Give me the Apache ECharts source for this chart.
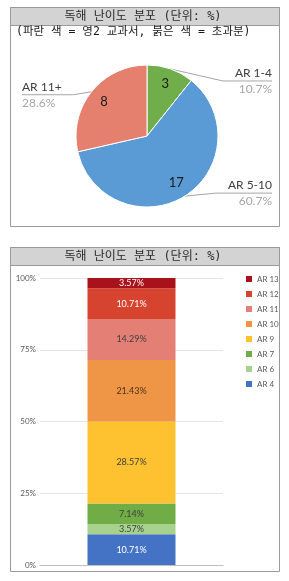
<!DOCTYPE html>
<html><head><meta charset="utf-8">
<script src="https://cdn.jsdelivr.net/npm/echarts@6/dist/echarts.min.js"></script>
<style>html,body{margin:0;padding:0;background:#fff}#c{width:289px;height:581px}</style>
</head><body><div id="c"></div>
<script>
const titleText = '독해 난이도 분포 (단위: %)';
const subtitleText = '(파란 색 = 영2 교과서, 붉은 색 = 초과분)';
const pieNames = ['AR 1-4', 'AR 5-10', 'AR 11+'];
const pieValues = [3, 17, 8];
const pieColors = ['#6FAE4B', '#5B9BD5', '#E5806F'];
const barCategories = ['AR'];
const barSeriesNames = ['AR 4', 'AR 6', 'AR 7', 'AR 9', 'AR 10', 'AR 11', 'AR 12', 'AR 13'];
const barValues = [10.71, 3.57, 7.14, 28.57, 21.43, 14.29, 10.71, 3.57];
const barColors = ['#4472C4', '#A6D28E', '#70AD47', '#FEC231', '#EE9646', '#E47F75', '#D6432F', '#A8131B'];
const barLabelColors = ['#FFFFFF', '#404040', '#404040', '#404040', '#4A3320', '#404040', '#FFFFFF', '#FFFFFF'];
const yTicks = [0, 25, 50, 75, 100];

const hangulFont = "'DejaVu Sans Mono','Noto Sans CJK KR',sans-serif";
const latinFont = "Lato,'Noto Sans',sans-serif";

const chart = echarts.init(document.getElementById('c'), null, {renderer: 'canvas'});

const pieBox = {left: 22, right: 17, top: 0, bottom: 0};
const pieCenter = [125, 136];
// vertical nudges of the outside pie labels (Excel-like placement)
const pieLabelShift = [12, -3, 3];

const option = {
  animation: false,
  backgroundColor: '#fff',
  graphic: [
    {type: 'rect', z: -10, shape: {x: 10.5, y: 7.5, width: 269, height: 219}, style: {fill: '#fff', stroke: '#9A9A9A', lineWidth: 1}},
    {type: 'rect', z: -9, shape: {x: 10.5, y: 7.5, width: 269, height: 18}, style: {fill: '#D3D3D3', stroke: '#9A9A9A', lineWidth: 1}},
    {type: 'text', z: -8, x: 143, y: 16.5, style: {text: titleText, align: 'center', verticalAlign: 'middle', fontSize: 12, fontFamily: hangulFont, fill: '#2B2B2B'}},
    {type: 'text', z: -8, x: 16, y: 32.5, style: {text: subtitleText, align: 'left', verticalAlign: 'middle', fontSize: 11.5, fontFamily: hangulFont, fill: '#1A1A1A'}},
    {type: 'rect', z: -10, shape: {x: 10.5, y: 247.5, width: 269, height: 324}, style: {fill: '#fff', stroke: '#9A9A9A', lineWidth: 1}},
    {type: 'rect', z: -9, shape: {x: 10.5, y: 247.5, width: 269, height: 18}, style: {fill: '#D3D3D3', stroke: '#9A9A9A', lineWidth: 1}},
    {type: 'text', z: -8, x: 143, y: 256.5, style: {text: titleText, align: 'center', verticalAlign: 'middle', fontSize: 12, fontFamily: hangulFont, fill: '#2B2B2B'}}
  ],
  legend: {
    orient: 'vertical', left: 241, top: 270,
    itemWidth: 6, itemHeight: 6, itemGap: 7,
    icon: 'rect',
    data: barSeriesNames.slice().reverse(),
    textStyle: {fontSize: 8, color: '#595959', fontFamily: latinFont},
    selectedMode: false
  },
  grid: {left: 40, right: 66, top: 278, bottom: 16},
  xAxis: {
    type: 'category', data: barCategories,
    axisLine: {lineStyle: {color: '#BFBFBF'}}, axisTick: {show: false}, axisLabel: {show: false}
  },
  yAxis: {
    type: 'value', min: yTicks[0], max: yTicks[yTicks.length - 1], interval: yTicks[1] - yTicks[0],
    axisLabel: {formatter: '{value}%', fontSize: 8, color: '#595959', margin: 4, fontFamily: latinFont},
    splitLine: {lineStyle: {color: '#E6E6E6'}},
    axisLine: {show: false}, axisTick: {show: false}
  },
  series: [
    {
      type: 'pie', ...pieBox, center: pieCenter, radius: 71, startAngle: 90, clockwise: true,
      percentPrecision: 1, avoidLabelOverlap: false,
      data: pieNames.map((n, i) => ({name: n, value: pieValues[i], itemStyle: {color: pieColors[i]}})),
      itemStyle: {borderColor: '#fff', borderWidth: 1},
      label: {
        position: 'outside', alignTo: 'edge', edgeDistance: 0,
        formatter: '{n|{b}}\n{p|{d}%}',
        rich: {
          n: {fontSize: 12, color: '#404040', fontFamily: latinFont, lineHeight: 16},
          p: {fontSize: 12, color: '#A6A6A6', fontFamily: latinFont, lineHeight: 16}
        }
      },
      labelLine: {show: true, length: 0, length2: 10, lineStyle: {color: '#A6A6A6', width: 1}},
      labelLayout: function (params) {
        const shift = pieLabelShift[params.dataIndex] || 0;
        const r = params.labelRect;
        const pts = params.labelLinePoints;
        if (!pts) return {dy: shift};
        const p0 = pts[0];
        const midY = r.y + shift + r.height / 2;
        const isRight = r.x > p0[0];
        let bendX, endX;
        if (isRight) {
          bendX = Math.max(p0[0], r.x - 12);
          endX = r.x + r.width;
        } else {
          bendX = Math.min(p0[0], r.x + r.width + 12);
          endX = r.x;
        }
        return {dy: shift, labelLinePoints: [p0, [bendX, midY], [endX, midY]]};
      },
      emphasis: {disabled: true}
    },
    {
      type: 'pie', ...pieBox, center: pieCenter, radius: [33, 71], startAngle: 90, clockwise: true,
      silent: true,
      data: pieNames.map((n, i) => ({name: n, value: pieValues[i]})),
      itemStyle: {color: 'rgba(0,0,0,0)', borderWidth: 0},
      label: {position: 'inside', formatter: '{c}', fontSize: 13, color: '#1A1A1A', fontFamily: latinFont},
      labelLine: {show: false},
      emphasis: {disabled: true}
    },
    ...barSeriesNames.map((n, i) => ({
      type: 'bar', name: n, stack: 'total', data: [barValues[i]], barWidth: 88,
      itemStyle: {color: barColors[i]},
      label: {show: true, position: 'inside', formatter: p => p.value.toFixed(2) + '%', fontSize: 9, color: barLabelColors[i], fontFamily: latinFont},
      emphasis: {disabled: true}
    }))
  ]
};
chart.setOption(option);
</script>
</body></html>
